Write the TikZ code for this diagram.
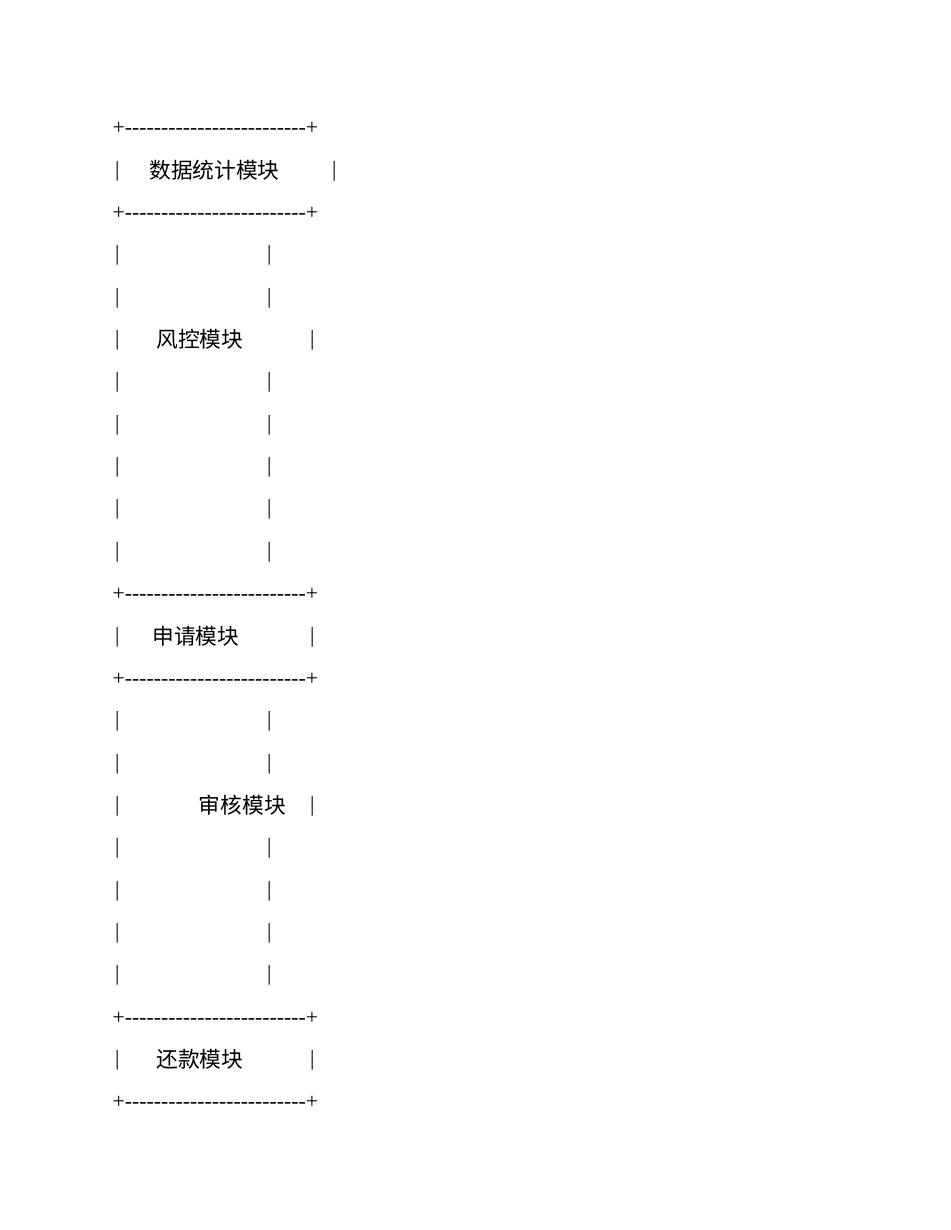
\documentclass[tikz,border=0pt]{standalone}
\usepackage{fontspec}
\setmainfont{Liberation Serif}[Ligatures=TeXOff]
\newfontfamily\cjk{Noto Sans CJK SC}

\begin{document}
\begin{tikzpicture}[x=0.6442pt, y=-0.6442pt]
	\tikzstyle{every node}=[inner sep=0pt, anchor=base, font=\fontsize{14}{16}\selectfont]
	\tikzstyle{sepline}=[anchor=base west]
	\tikzstyle{modname}=[anchor=base west, font=\fontsize{14}{16}\selectfont\cjk]
	\useasboundingbox (0,0) rectangle (950,1230);

	% row k sits on baseline 133.8+42.35*k
	\foreach \k/\nm in {0/sep0, 2/sep1, 11/sep2, 13/sep3, 21/sep4, 23/sep5}
		\node[sepline] (\nm) at (112.4, {134.8+42.35*\k}) {+-------------------------+};

	% left bars
	\foreach \k in {1,3,4,5,6,7,8,9,10,12,14,15,16,17,18,19,20,22}
		\node (lbar\k) at (117.3, {133.8+42.35*\k}) {|};

	% empty rows
	\foreach \k in {3,4,6,7,8,9,10,14,15,17,18,19,20}
		\node (rbar\k) at (269.3, {133.8+42.35*\k}) {|};

	% module names
	\node[modname] (stat) at (149, {135.8+42.35*1}) {数据统计模块};
	\node (rbar1) at (334.3, {133.8+42.35*1}) {|};

	\node[modname] (risk) at (156, {135.8+42.35*5}) {风控模块};
	\node (rbar5) at (312.3, {133.8+42.35*5}) {|};

	\node[modname] (apply) at (152, {135.8+42.35*12}) {申请模块};
	\node (rbar12) at (312.3, {133.8+42.35*12}) {|};

	\node[modname] (audit) at (198.5, {135.8+42.35*16}) {审核模块};
	\node (rbar16) at (312.3, {133.8+42.35*16}) {|};

	\node[modname] (repay) at (156, {135.8+42.35*22}) {还款模块};
	\node (rbar22) at (312.3, {133.8+42.35*22}) {|};
\end{tikzpicture}
\end{document}
